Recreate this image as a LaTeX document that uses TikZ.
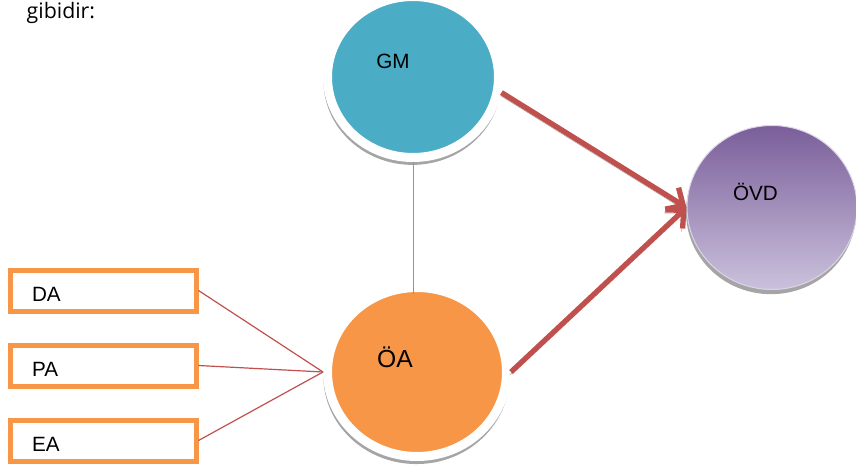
\documentclass[tikz,border=0pt]{standalone}
\usepackage{fontspec}
\setmainfont{Liberation Sans}
\newfontfamily\notefont{Open Sans}
\usetikzlibrary{arrows.meta,shapes.geometric,shadows}

\definecolor{aqua}{HTML}{4BACC6}
\definecolor{turuncu}{HTML}{F79646}
\definecolor{kirmizi}{HTML}{C0504D}
\definecolor{morust}{HTML}{7A5E9A}
\definecolor{moralt}{HTML}{CBC1DC}
\definecolor{golge}{HTML}{A5A5A5}

\begin{document}
\begin{tikzpicture}[x=0.75pt,y=-0.75pt,
  lbl/.style={font=\fontsize{15.5}{18}\selectfont},
  halka/.style={ellipse,draw=white,line width=6.75pt,
    drop shadow={shadow xshift=-0.4pt,shadow yshift=-3pt,shadow scale=1.04,fill=golge,opacity=1}},
  kutu/.style={draw=turuncu,line width=3.75pt,minimum width=139.5pt,minimum height=30.75pt,
    inner xsep=16.5pt,text width=106.5pt,align=left,text height=15.8pt,text depth=0pt,lbl},
  ince/.style={draw=kirmizi,line width=0.9pt},
  ok/.style={draw=kirmizi,line width=4pt,-{Straight Barb[length=10pt,width=19pt]},
    preaction={draw=golge,transform canvas={xshift=-0.75pt,yshift=-2.25pt}}}]
\useasboundingbox (0,0) rectangle (856,470);

\node[font=\notefont\fontsize{16}{19}\selectfont,anchor=base west] (giris) at (22,19) {gibidir:};

% circles
\node[halka,fill=aqua,minimum width=128.25pt,minimum height=120.75pt] (gm) at (413,77) {};
\node[halka,fill=turuncu,minimum width=134.25pt,minimum height=126.75pt] (oa) at (417,372) {};
\node[ellipse,draw=moralt!70!white,line width=0.75pt,top color=morust,bottom color=moralt,
  minimum width=127.5pt,minimum height=123pt,
  drop shadow={shadow xshift=-0.75pt,shadow yshift=-3.5pt,fill=golge,opacity=1}] (ovd) at (772,207.5) {};

\node[lbl,anchor=base] (gmyazi) at ([xshift=-15pt,yshift=6pt]gm.center) {GM};
\node[anchor=base,font=\fontsize{18.5}{22}\selectfont] (oayazi) at ([xshift=-16.5pt,yshift=3.75pt]oa.center) {ÖA};
\node[lbl,anchor=base] (ovdyazi) at ([xshift=-12.4pt,yshift=4.9pt]ovd.center) {ÖVD};

% boxes on the left
\node[kutu] (da) at (103,290.5) {DA};
\node[kutu] (pa) at (103,365.5) {PA};
\node[kutu] (ea) at (103,440.5) {EA};

\foreach \k in {da,pa,ea}
  \draw[ince] (\k.east) -- (oa.west);

\draw[draw=golge!90!black,line width=0.75pt,shorten >=-8pt] (gm.south) -- (gm.south |- oa.north);

\draw[ok] (gm.-10) -- (ovd.west);
\draw[ok] (oa.east) -- (ovd.west);
\end{tikzpicture}
\end{document}
